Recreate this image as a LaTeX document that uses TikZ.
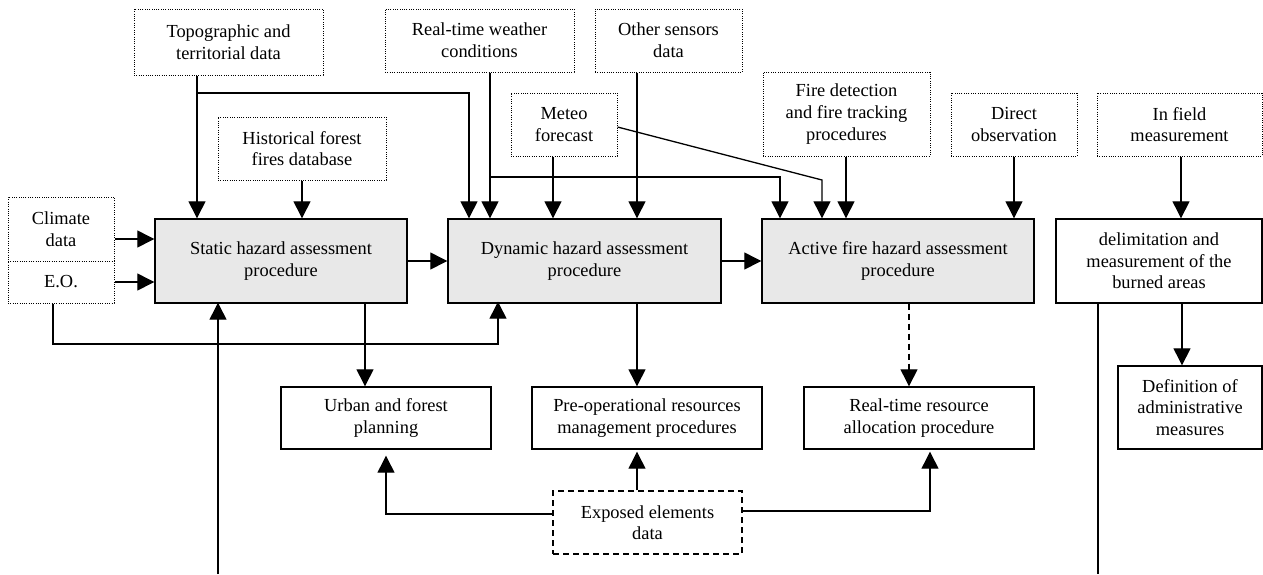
\documentclass[tikz,border=0pt]{standalone}
\usepackage{fontspec}
\setmainfont{Liberation Serif}
\usetikzlibrary{arrows.meta}
\definecolor{procgray}{HTML}{E8E8E8}
\begin{document}
\begin{tikzpicture}[x=1pt,y=-1pt,
  every node/.style={font=\fontsize{18.4}{21.6}\selectfont, align=center, inner sep=0pt},
  box/.style={draw, line width=1.4pt},
  proc/.style={box, fill=procgray},
  datab/.style={draw, line width=1pt, dash pattern=on 1pt off 1.3pt},
  expo/.style={draw, line width=1.4pt, dash pattern=on 6pt off 4pt},
  arr/.style={line width=1.3pt, -{Triangle[length=17pt,width=17pt]}},
  plain/.style={line width=1.3pt},
  sz/.style 2 args={minimum width=#1pt, minimum height=#2pt}
]
\useasboundingbox (0,0) rectangle (1263,574);

% data sources
\node[datab, sz={189}{66}] (topo) at (228.5,42) {Topographic and\\territorial data};
\node[datab, sz={189}{63}] (rtw) at (479.5,40.5) {Real-time weather\\conditions};
\node[datab, sz={147}{63}] (other) at (668.5,40.5) {Other sensors\\data};
\node[datab, sz={106}{63}] (meteo) at (564,124.5) {Meteo\\forecast};
\node[datab, sz={167}{84}] (firedet) at (846.5,114) {Fire detection\\and fire tracking\\procedures};
\node[datab, sz={126}{63}] (direct) at (1014,124.5) {Direct\\observation};
\node[datab, sz={165}{63}] (infield) at (1179.5,124.5) {In field\\measurement};
\node[datab, sz={168}{63}] (hist) at (302,148.5) {Historical forest\\fires database};
\node[datab, sz={106}{64}] (climate) at (61,229) {Climate\\data};
\node[datab, sz={106}{42}] (eo) at (61,282) {E.O.};

% procedures
\node[proc, sz={252}{84}] (static) at (281,261) {Static hazard assessment\\procedure};
\node[proc, sz={273}{84}] (dynamic) at (584.5,261) {Dynamic hazard assessment\\procedure};
\node[proc, sz={272}{84}] (active) at (898,261) {Active fire hazard assessment\\procedure};
\node[box, sz={206}{84}] (delim) at (1159,261) {delimitation and\\measurement of the\\burned areas};

% outputs
\node[box, sz={210}{62}] (urban) at (386,418) {Urban and forest\\planning};
\node[box, sz={230}{62}] (preop) at (647,418) {Pre-operational resources\\management procedures};
\node[box, sz={230}{62}] (rtres) at (919,418) {Real-time resource\\allocation procedure};
\node[box, sz={144}{83}] (defin) at (1190,407.5) {Definition of\\administrative\\measures};
\node[expo, sz={189}{63}] (exposed) at (647.5,522.5) {Exposed elements\\data};

% helper coordinates
\coordinate (xa) at (197,0);
\coordinate (j1) at (197,93);
\coordinate (xb) at (469,0);
\coordinate (xc) at (490,0);
\coordinate (j2) at (490,177);
\coordinate (xd) at (780,0);
\coordinate (m1) at (617,127);
\coordinate (m2) at (822,180);
\coordinate (xk) at (302,0);
\coordinate (xl) at (553,0);
\coordinate (xm) at (637,0);
\coordinate (xn) at (846,0);
\coordinate (xo) at (1014,0);
\coordinate (xp) at (1181,0);
\coordinate (yc) at (0,239);
\coordinate (ye) at (0,282);
\coordinate (ym) at (0,261);
\coordinate (xf) at (53,0);
\coordinate (j3) at (498,344);
\coordinate (b1) at (218,574);
\coordinate (xs) at (365,0);
\coordinate (xh) at (909,0);
\coordinate (b2) at (1098,574);
\coordinate (xq) at (1182,0);
\coordinate (j4) at (386,514);
\coordinate (j5) at (930,511);

% inputs to static / dynamic
\draw[arr] (topo.south -| xa) -- (static.north -| xa);
\draw[arr] (j1) -| (dynamic.north -| xb);
\draw[arr] (hist.south -| xk) -- (static.north -| xk);
\draw[arr] (climate.east |- yc) -- (static.west |- yc);
\draw[arr] (eo.east |- ye) -- (static.west |- ye);
\draw[arr] (eo.south -| xf) |- (j3) -- ([yshift=2pt]dynamic.south -| j3);
\draw[arr] (b1) -- ([yshift=1pt]static.south -| b1);

\draw[arr] (rtw.south -| xc) -- (dynamic.north -| xc);
\draw[arr] (j2) -| (active.north -| xd);
\draw[arr] (meteo.south -| xl) -- (dynamic.north -| xl);
\draw[arr] (meteo.east |- m1) -- (m2) -- (active.north -| m2);
\draw[arr] (other.south -| xm) -- (dynamic.north -| xm);
\draw[arr] (firedet.south -| xn) -- (active.north -| xn);
\draw[arr] (direct.south -| xo) -- (active.north -| xo);
\draw[arr] (infield.south -| xp) -- (delim.north -| xp);

% between procedures
\draw[arr] (static.east |- ym) -- (dynamic.west |- ym);
\draw[arr] (dynamic.east |- ym) -- (active.west |- ym);

% outputs
\draw[arr] (static.south -| xs) -- (urban.north -| xs);
\draw[arr] (dynamic.south -| xm) -- (preop.north -| xm);
\draw[arr, dash pattern=on 6pt off 4pt] (active.south -| xh) -- (rtres.north -| xh);
\draw[plain] (delim.south -| b2) -- (b2);
\draw[arr] (delim.south -| xq) -- (defin.north -| xq);

% exposed elements
\draw[arr, shorten >=6pt] (exposed.west |- j4) -| (urban.south -| j4);
\draw[arr, shorten >=2pt] (exposed.north -| xm) -- (preop.south -| xm);
\draw[arr, shorten >=2pt] (exposed.east |- j5) -| (rtres.south -| j5);
\end{tikzpicture}
\end{document}
